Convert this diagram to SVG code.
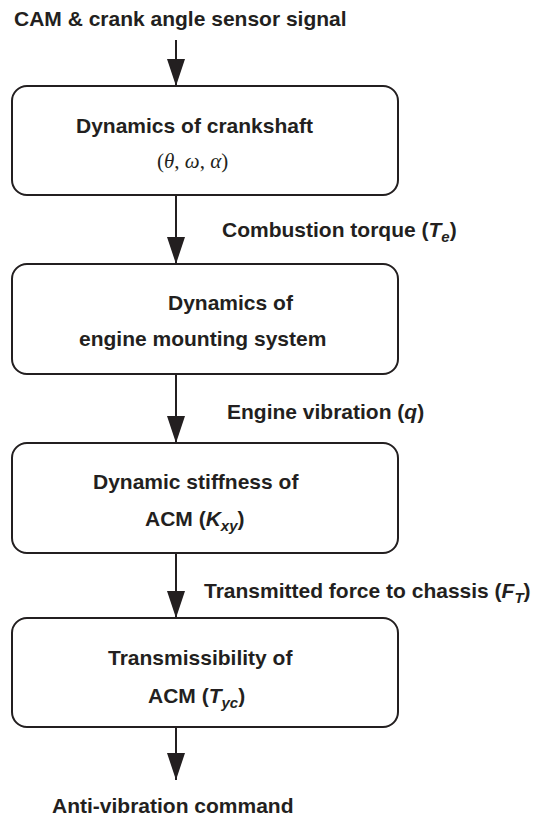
<svg xmlns="http://www.w3.org/2000/svg" width="536" height="820" viewBox="0 0 536 820">
<style>
  .box { fill: #fff; stroke: #231f20; stroke-width: 2; }
  .t { font-family: "Liberation Sans", Arial, sans-serif; font-weight: bold; font-size: 21px; fill: #231f20; }
  .i { font-style: italic; }
  .sub { font-size: 15px; font-style: italic; }
  .m { font-family: "Liberation Serif", "Times New Roman", serif; font-size: 21px; fill: #231f20; }
  .ln { stroke: #231f20; stroke-width: 2; fill: none; }
</style>
<defs>
  <marker id="ah" markerUnits="userSpaceOnUse" markerWidth="27" markerHeight="18" refX="27" refY="9" orient="auto" viewBox="0 0 27 18">
    <path d="M0,0 L27,9 L0,18 Z" fill="#231f20"/>
  </marker>
</defs>
<rect width="536" height="820" fill="#fff"/>

<g id="connectors">
  <line class="ln" x1="176" y1="40" x2="176" y2="86" marker-end="url(#ah)"/>
  <line class="ln" x1="176" y1="195" x2="176" y2="264" marker-end="url(#ah)"/>
  <line class="ln" x1="176" y1="374" x2="176" y2="443" marker-end="url(#ah)"/>
  <line class="ln" x1="176" y1="553" x2="176" y2="618" marker-end="url(#ah)"/>
  <line class="ln" x1="176" y1="727" x2="176" y2="780" marker-end="url(#ah)"/>
</g>

<g id="input-label">
  <text class="t" x="14" y="26">CAM &amp; crank angle sensor signal</text>
</g>

<g id="node-crankshaft">
  <rect class="box" x="12" y="86" width="386" height="109" rx="15"/>
  <text class="t" x="76" y="133">Dynamics of crankshaft</text>
  <text class="m" x="157" y="168">(<tspan font-style="italic">θ</tspan>, <tspan font-style="italic">ω</tspan>, <tspan font-style="italic">α</tspan>)</text>
</g>

<g id="label-torque">
  <text class="t" x="222" y="237">Combustion torque (<tspan class="i">T</tspan><tspan class="sub" dy="5">e</tspan><tspan dy="-5">)</tspan></text>
</g>

<g id="node-mounting">
  <rect class="box" x="12" y="264" width="386" height="110" rx="15"/>
  <text class="t" x="168" y="310">Dynamics of</text>
  <text class="t" x="79" y="346">engine mounting system</text>
</g>

<g id="label-vibration">
  <text class="t" x="227" y="419">Engine vibration (<tspan class="i">q</tspan>)</text>
</g>

<g id="node-stiffness">
  <rect class="box" x="12" y="443" width="386" height="110" rx="15"/>
  <text class="t" x="93" y="489">Dynamic stiffness of</text>
  <text class="t" x="145" y="526">ACM (<tspan class="i">K</tspan><tspan class="sub" dy="5">xy</tspan><tspan dy="-5">)</tspan></text>
</g>

<g id="label-force">
  <text class="t" x="204" y="598">Transmitted force to chassis (<tspan class="i">F</tspan><tspan class="sub" dy="5">T</tspan><tspan dy="-5">)</tspan></text>
</g>

<g id="node-transmissibility">
  <rect class="box" x="12" y="618" width="386" height="109" rx="15"/>
  <text class="t" x="108" y="665">Transmissibility of</text>
  <text class="t" x="148" y="703">ACM (<tspan class="i">T</tspan><tspan class="sub" dy="5">yc</tspan><tspan dy="-5">)</tspan></text>
</g>

<g id="output-label">
  <text class="t" x="52" y="813">Anti-vibration command</text>
</g>
</svg>
